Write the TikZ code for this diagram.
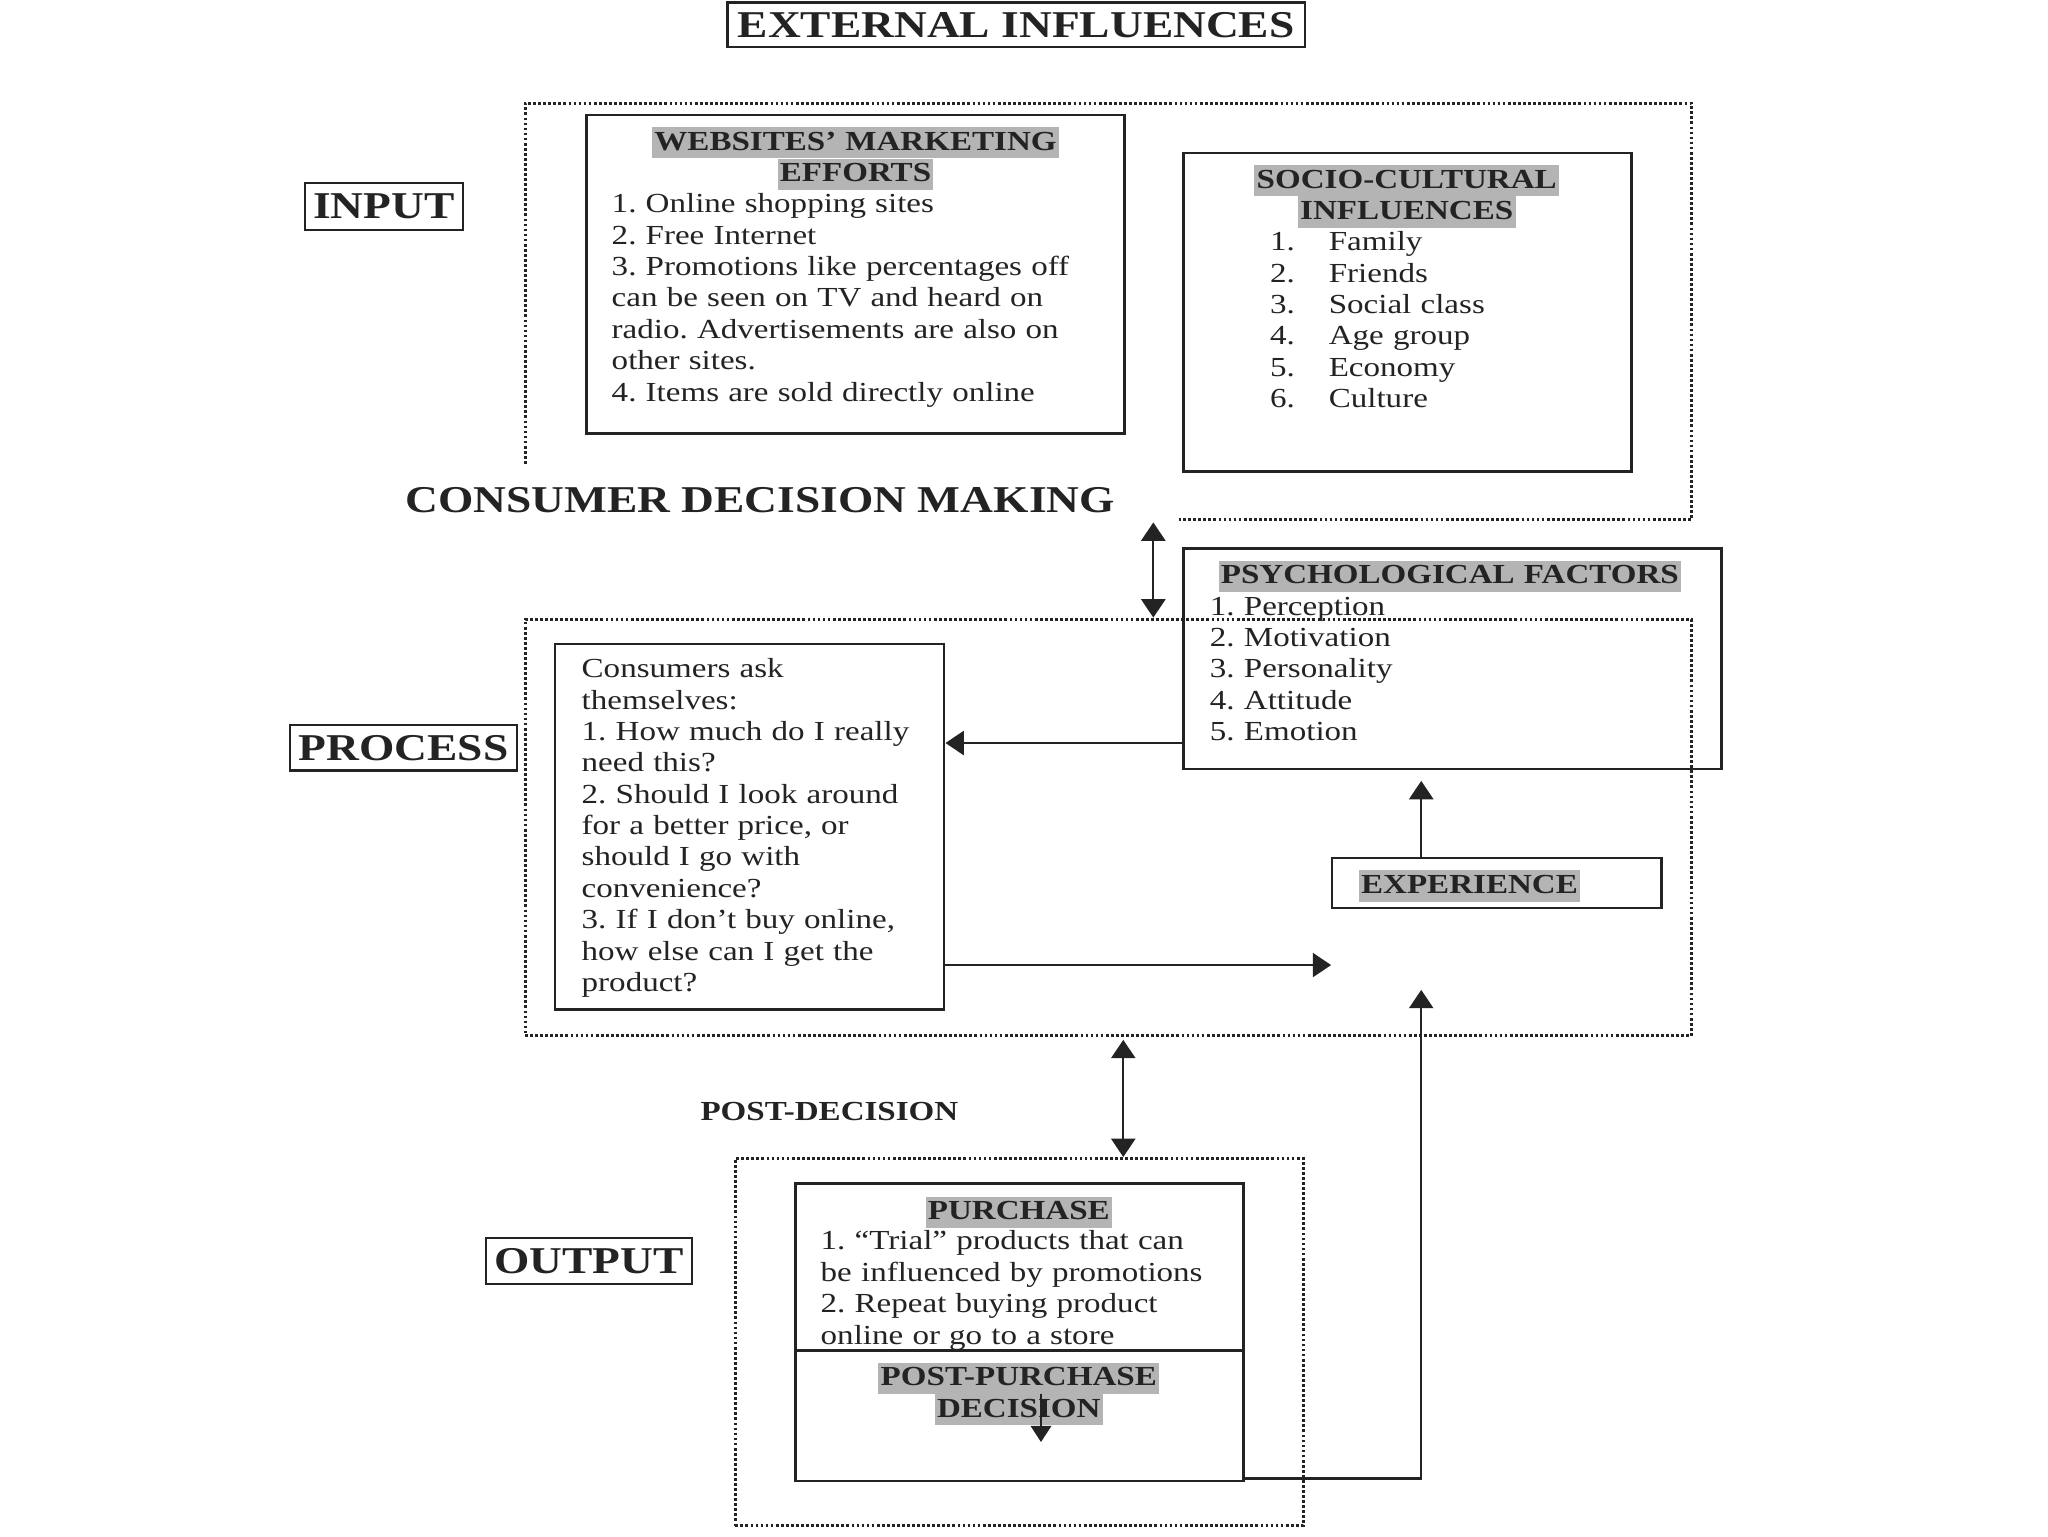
\documentclass[tikz,border=0pt]{standalone}
\usepackage{fontspec}
\setmainfont{Liberation Serif}[FakeStretch=1.2]
\usetikzlibrary{arrows.meta,positioning}
\definecolor{hlgray}{RGB}{180,180,180}
\definecolor{inkc}{RGB}{35,35,35}
\newcommand{\bodyfont}{\fontsize{12}{13.66}\selectfont\frenchspacing}
\newcommand{\bigfont}{\fontsize{16.5}{19}\selectfont}
\newcommand{\hlbar}[1]{{\setlength{\fboxsep}{0pt}\colorbox{hlgray}{\rule[-3.6pt]{0pt}{13.6pt}\kern1pt#1\kern1pt}}}

\begin{document}
\begin{tikzpicture}[
  font=\bodyfont, text=inkc,
  box/.style={draw=inkc, line width=1pt, inner sep=0pt},
  reg/.style={draw=inkc, line width=1.3pt, dash pattern=on 1.2pt off 1pt, inner sep=0pt},
  lab/.style={draw=inkc, line width=1pt, font=\bigfont\bfseries, inner sep=0pt},
  ttl/.style={font=\bodyfont\bfseries, align=center, inner sep=0pt},
  txt/.style={font=\bodyfont, align=left, inner sep=0pt},
  arr/.style={draw=inkc, line width=1pt, -{Triangle[length=8pt,width=10.5pt]}},
  dbl/.style={draw=inkc, line width=1pt, {Triangle[length=8pt,width=10.5pt]}-{Triangle[length=8pt,width=10.5pt]}},
]
\useasboundingbox[fill=white] (0,0) rectangle (31.36,23.52);

% ---------------- stage labels ----------------
\node[lab, minimum width=8.84cm, minimum height=0.68cm] (ext) at (15.56,23.14) {EXTERNAL INFLUENCES};
\node[lab, minimum width=2.42cm, minimum height=0.72cm] (input) at (5.88,20.36) {INPUT};
\node[lab, minimum width=3.48cm, minimum height=0.70cm] (process) at (6.18,12.07) {PROCESS};
\node[lab, minimum width=3.16cm, minimum height=0.70cm] (output) at (9.02,4.21) {OUTPUT};

% ---------------- input: external influences ----------------
\draw[reg] (8.04,16.42) -- (8.04,21.94) -- (25.9,21.94) -- (25.9,15.56) coordinate (inbot) -- (18.06,15.56);

\node[box, minimum width=8.24cm, minimum height=4.88cm] (web) at (13.1,19.32) {};
\node[ttl, anchor=base, text width=7.4cm] (webttl) at (13.1,21.22)
  {\hlbar{WEBSITES’ MARKETING}\\\hlbar{EFFORTS}};
\node[txt, anchor=base west, text width=7.6cm] (webitems) at (9.36,20.26)
  {1. Online shopping sites\\
   2. Free Internet\\
   3. Promotions like percentages off\\
   can be seen on TV and heard on\\
   radio. Advertisements are also on\\
   other sites.\\
   4. Items are sold directly online};

\node[box, minimum width=6.86cm, minimum height=4.88cm] (socio) at (21.55,18.74) {};
\node[ttl, anchor=base, text width=6cm] (socttl) at (21.54,20.64)
  {\hlbar{SOCIO-CULTURAL}\\\hlbar{INFLUENCES}};
\node[txt, anchor=base west, text width=4.5cm] (socitems) at (19.44,19.68)
  {\makebox[0.9cm][l]{1.}Family\\
   \makebox[0.9cm][l]{2.}Friends\\
   \makebox[0.9cm][l]{3.}Social class\\
   \makebox[0.9cm][l]{4.}Age group\\
   \makebox[0.9cm][l]{5.}Economy\\
   \makebox[0.9cm][l]{6.}Culture};

\node[ttl, font=\bigfont\bfseries, anchor=base] (cdm) at (11.64,15.67) {CONSUMER DECISION MAKING};

% ---------------- process ----------------
\node[box, minimum width=8.24cm, minimum height=3.38cm] (psych) at (22.24,13.43) {};
\node[ttl, anchor=base, text width=8cm] (psyttl) at (22.2,14.58) {\hlbar{PSYCHOLOGICAL FACTORS}};
\node[txt, anchor=base west, text width=5cm] (psyitems) at (18.52,14.1)
  {1. Perception\\2. Motivation\\3. Personality\\4. Attitude\\5. Emotion};

\node[reg, minimum width=17.86cm, minimum height=6.38cm] (procreg) at (16.97,10.85) {};

\node[box, minimum width=5.96cm, minimum height=5.6cm] (cons) at (11.48,10.86) {};
\node[txt, anchor=base west, text width=5.6cm] (constxt) at (8.9,13.14)
  {Consumers ask\\
   themselves:\\
   1. How much do I really\\
   need this?\\
   2. Should I look around\\
   for a better price, or\\
   should I go with\\
   convenience?\\
   3. If I don’t buy online,\\
   how else can I get the\\
   product?};

\node[box, minimum width=5.04cm, minimum height=0.76cm] (exp) at (22.92,10.0) {};
\node[ttl, anchor=base west] (exptxt) at (20.8,9.84) {\hlbar{EXPERIENCE}};

% ---------------- output ----------------
\node[ttl, anchor=base] (postdec) at (12.7,6.36) {POST-DECISION};
\node[reg, minimum width=8.7cm, minimum height=5.62cm] (outreg) at (15.61,2.97) {};

\node[box, minimum width=6.86cm, minimum height=4.56cm] (purch) at (15.61,3.12) {};
\draw[box] ([yshift=2.02cm]purch.south west) -- ([yshift=2.02cm]purch.south east);
\node[ttl, anchor=base, text width=6cm] (purttl) at (15.6,4.84) {\hlbar{PURCHASE}};
\node[txt, anchor=base west, text width=6.4cm] (puritems) at (12.56,4.38)
  {1. “Trial” products that can\\
   be influenced by promotions\\
   2. Repeat buying product\\
   online or go to a store};
\node[ttl, anchor=base, text width=6cm] (postttl) at (15.6,2.3)
  {\hlbar{POST-PURCHASE}\\\hlbar{DECISION}};
\coordinate (ppa) at (15.94,2.18);
\draw[draw=inkc, line width=0.6pt, -{Triangle[length=7pt,width=9pt]}] (ppa) -- ++(0,-0.74);

% ---------------- connectors ----------------
\coordinate (cdx) at (17.66,0);
\draw[dbl, shorten <=0.04cm] (cdx |- inbot) -- (cdx |- procreg.north);
\draw[arr] ([yshift=0.42cm]psych.south west) coordinate (pa) -- (pa -| cons.east);
\draw[arr, shorten >=0.16cm] ([xshift=1.38cm]exp.north west) coordinate (xa) -- (xa |- psych.south);
\draw[arr] ([yshift=0.7cm]cons.south east) coordinate (cb) -- (cb -| exp.west);
\draw[arr] ([yshift=0.06cm]purch.south east) -| ([xshift=1.38cm,yshift=-1.24cm]exp.south west);
\coordinate (pdx) at (17.2,0);
\draw[dbl, shorten <=0.04cm] (pdx |- procreg.south) -- (pdx |- outreg.north);

\end{tikzpicture}
\end{document}
